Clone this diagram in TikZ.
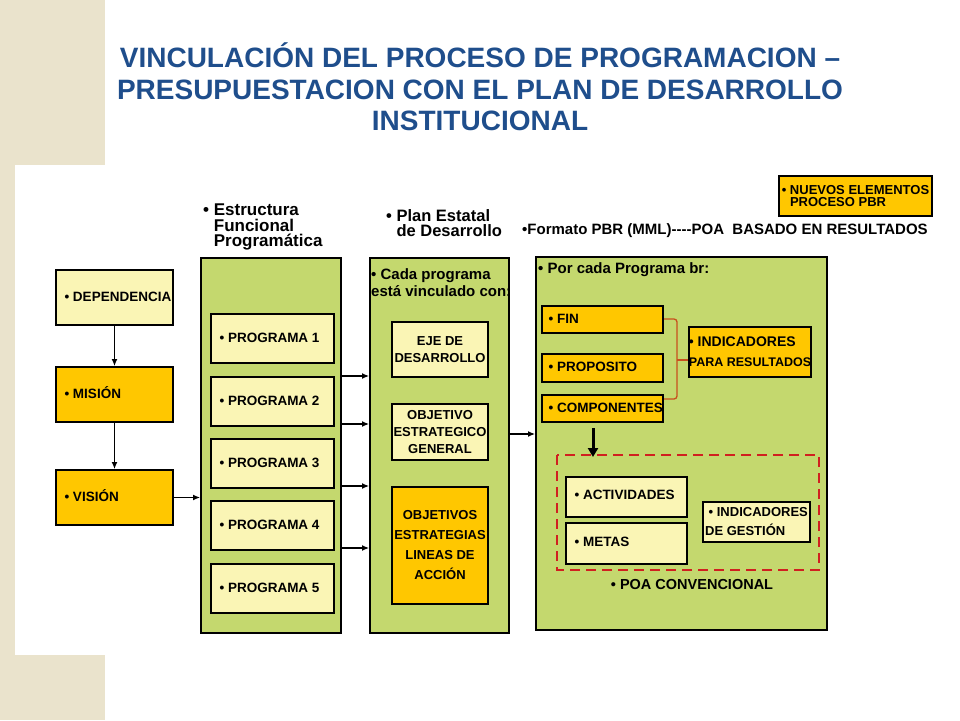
\documentclass[tikz,border=0pt]{standalone}
\usepackage{fontspec}
\setmainfont{Liberation Sans}
\usetikzlibrary{arrows.meta}
\definecolor{lt}{HTML}{FAF5B5}
\definecolor{og}{HTML}{FFC700}
\definecolor{gr}{HTML}{C4D86E}
\definecolor{tb}{HTML}{1F4E8C}
\definecolor{bg}{HTML}{EAE3CC}
\definecolor{rd}{HTML}{D02020}
\definecolor{br}{HTML}{C8501E}
\tikzset{
 bx/.style={draw=black,line width=2pt,inner sep=0pt},
 ltb/.style={bx,fill=lt},
 ogb/.style={bx,fill=og},
 grb/.style={draw=black,line width=2pt,fill=gr},
 arr/.style={-{Latex[length=7pt,width=6pt]},line width=1.2pt},
 tx/.style={anchor=west,font=\bfseries\fontsize{13.5}{15}\selectfont},
}
\newcommand{\bxat}[6]{\node[#1,minimum width=#4-#2,minimum height=#5-#3,anchor=north west] (#6) at (#2,#3) {};}
\begin{document}
\begin{tikzpicture}[x=1pt,y=-1pt]
\useasboundingbox (0,0) rectangle (960,720);
\fill[bg] (0,0) rectangle (105,720);
\fill[white] (15,165) rectangle (960,655);
\node[font=\bfseries\fontsize{28}{31.5}\selectfont,text=tb,align=center] (title) at (480,87)
 {VINCULACIÓN DEL PROCESO DE PROGRAMACION –\\PRESUPUESTACION CON EL PLAN DE DESARROLLO\\INSTITUCIONAL};
% column 1
\bxat{ltb}{55}{269}{172}{324}{dep}
\bxat{ogb}{55}{366}{172}{421}{mis}
\bxat{ogb}{55}{469}{172}{524}{vis}
\node[tx] at (61,297) {• DEPENDENCIA};
\node[tx] at (61,393) {• MISIÓN};
\node[tx] at (61,496) {• VISIÓN};
\draw[arr] (dep.south) -- (mis.north);
\draw[arr] (mis.south) -- (vis.north);
% green boxes
\bxat{grb}{200}{257}{340}{632}{g1}
\bxat{grb}{369}{257}{508}{632}{g2}
\bxat{grb}{535}{256}{826}{629}{g3}
\draw[arr] (vis.east) -- (g1.west|-vis.east);
\node[anchor=north west,align=left,inner sep=0pt,font=\bfseries\fontsize{17}{15.5}\selectfont] (h1) at (203,204) {• Estructura\\\phantom{• }Funcional\\\phantom{• }Programática};
\node[anchor=north west,align=left,inner sep=0pt,font=\bfseries\fontsize{16.5}{15.5}\selectfont] (h2) at (386,209) {• Plan Estatal\\\phantom{• }de Desarrollo};
\node[anchor=west,inner sep=0pt,font=\bfseries\fontsize{15}{15}\selectfont] (h3) at (522,231) {•Formato PBR (MML)-{}-{}-{}-POA\ \ BASADO EN RESULTADOS};
% programas
\foreach \i/\y in {1/313,2/376,3/438,4/500,5/563}{
 \node[ltb,minimum width=123,minimum height=49,anchor=north west] (p\i) at (210,\y) {};
 \node[tx] at (216,\y+24.5) {• PROGRAMA \i};
}
\foreach \y in {376,424,486,548}{
 \coordinate (s\y) at (g1.east|-0,\y);
 \draw[arr] (s\y) -- (g2.west|-s\y);
}
% plan estatal
\node[anchor=north west,align=left,inner sep=0pt,font=\bfseries\fontsize{15}{17}\selectfont] (cp) at (371,268) {• Cada programa\\está vinculado con:};
\bxat{ltb}{391}{321}{487}{376}{eje}
\bxat{ltb}{391}{403}{487}{459}{obj}
\bxat{ogb}{391}{486}{487}{603}{objs}
\node[align=center,font=\bfseries\fontsize{13}{17}\selectfont] at (eje) {EJE DE\\DESARROLLO};
\node[align=center,font=\bfseries\fontsize{13}{17}\selectfont] at (obj) {OBJETIVO\\ESTRATEGICO\\GENERAL};
\node[align=center,font=\bfseries\fontsize{13}{20}\selectfont] at (objs) {OBJETIVOS\\ESTRATEGIAS\\LINEAS DE\\ACCIÓN};
\coordinate (s434) at (g2.east|-0,434);
\draw[arr] (s434) -- (g3.west|-s434);
% PBR
\node[anchor=west,inner sep=0pt,font=\bfseries\fontsize{15}{15}\selectfont] (pc) at (538,270) {• Por cada Programa br:};
\bxat{ogb}{541}{305}{662}{332}{fin}
\bxat{ogb}{541}{353}{662}{381}{prop}
\bxat{ogb}{541}{394}{662}{421}{comp}
\node[tx] at (545,318.5) {• FIN};
\node[tx] at (545,367) {• PROPOSITO};
\node[tx] at (545,407.5) {• COMPONENTES};
\bxat{ogb}{688}{326}{810}{376}{ind}
\node[align=left,font=\bfseries\fontsize{14}{20}\selectfont] at (ind) {• INDICADORES\\{\fontsize{12.5}{14}\selectfont PARA RESULTADOS}};
\draw[br,line width=1.3pt,rounded corners=3pt] (fin.east|-0,319) -- (677,319) -- (677,399) -- (comp.east|-0,399);
\draw[br,line width=1.3pt] (677,360) -- (ind.west|-0,360);
\draw[-{Triangle[length=9pt,width=10pt]},line width=3pt] (593,428) -- (593,457);
\draw[rd,line width=2.5pt,dash pattern=on 10pt off 6pt] (557,455) rectangle (819,570);
\bxat{ltb}{565}{476}{686}{516}{act}
\bxat{ltb}{565}{522}{686}{563}{met}
\bxat{ltb}{702}{501}{809}{541}{ig}
\node[tx] at (571,495) {• ACTIVIDADES};
\node[tx] at (571,542) {• METAS};
\node[align=left,font=\bfseries\fontsize{13}{19}\selectfont] at (ig) {\ • INDICADORES\\DE GESTIÓN};
\node[font=\bfseries\fontsize{14.5}{16}\selectfont] (poa) at (692,584) {• POA CONVENCIONAL};
\bxat{ogb}{778}{175}{931}{215}{nue}
\node[align=left,font=\bfseries\fontsize{13}{12}\selectfont] at (nue) {• NUEVOS ELEMENTOS\\\phantom{• }PROCESO PBR};
\end{tikzpicture}
\end{document}
